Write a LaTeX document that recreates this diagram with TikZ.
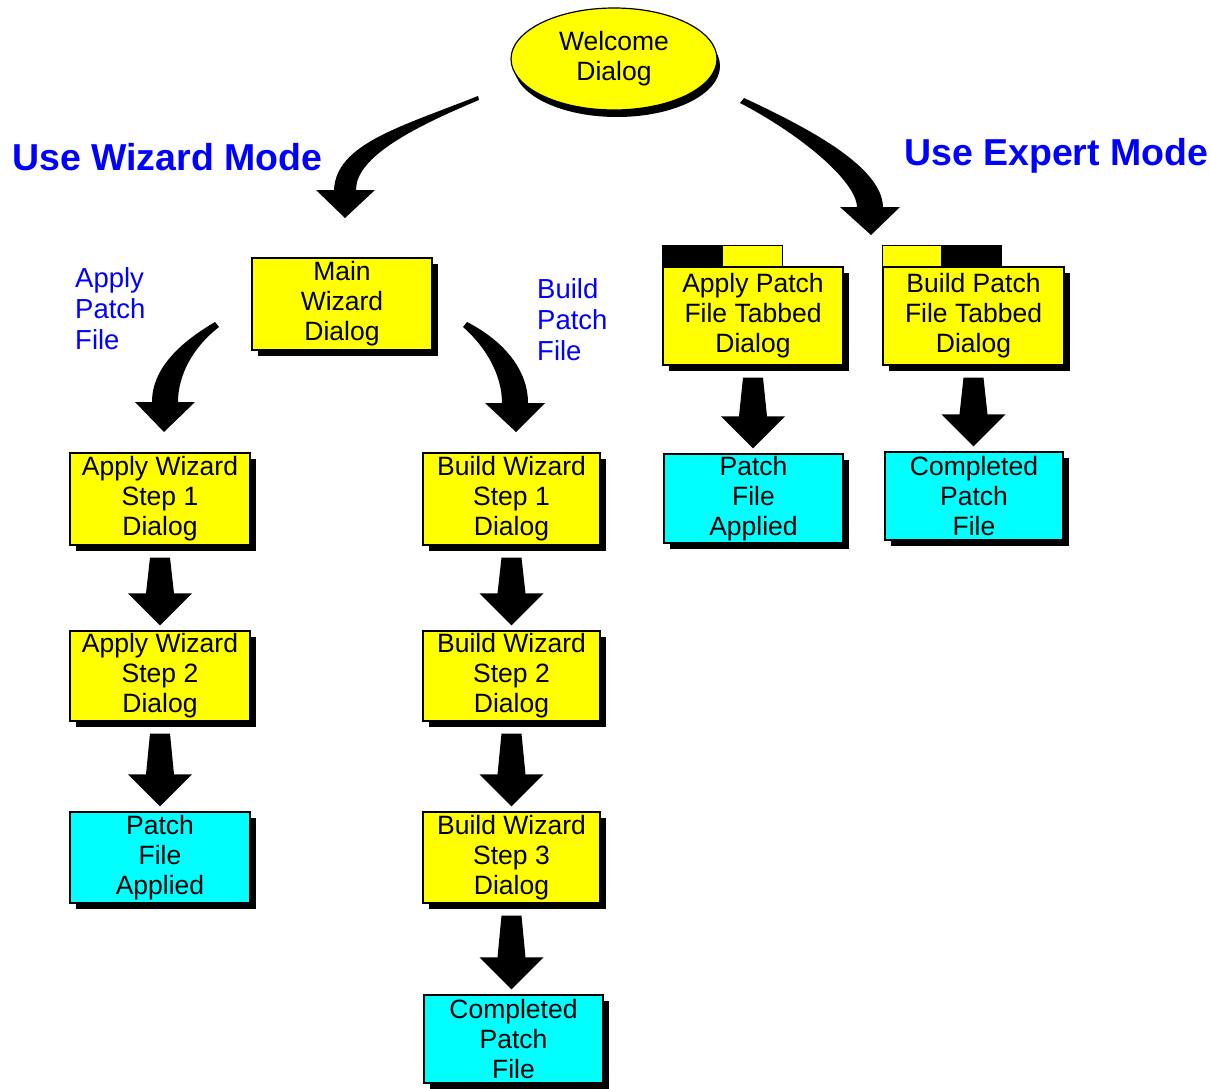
\documentclass[tikz,border=0pt]{standalone}
\usepackage{fontspec}
\setmainfont{Liberation Sans}
\usetikzlibrary{shadows,calc,shapes.geometric}
\definecolor{yellowbox}{RGB}{255,255,0}
\definecolor{cyanbox}{RGB}{0,255,255}
\definecolor{labelblue}{RGB}{0,0,255}
\tikzset{
  boxbase/.style={draw=black, line width=1.2pt, inner sep=0pt, align=center,
    font=\fontsize{26.5}{30}\selectfont},
  boxshadow/.style={drop shadow={shadow xshift=6pt, shadow yshift=-6pt, fill=black, opacity=1}},
  ybox/.style={boxbase, boxshadow, fill=yellowbox, minimum width=180pt, minimum height=92pt},
  cbox/.style={boxbase, boxshadow, fill=cyanbox, minimum width=180pt, minimum height=90pt},
  bluelabel/.style={text=labelblue, inner sep=0pt, align=left, font=\fontsize{27.5}{31}\selectfont},
  modelabel/.style={text=labelblue, inner sep=0pt, font=\fontsize{37.5}{40}\selectfont\bfseries},
  arrowfill/.style={fill=black},
}
\newcommand\blockarr[2]{%
  \fill[arrowfill] let \p1=($(#1.south)+(0,12)$), \p2=($(#2.north)+(0,-5)$) in
    (\x1-10pt,\y1) -- (\x1+10pt,\y1) -- (\x1+14pt,\y2+32pt) -- (\x1+32pt,\y2+32pt)
    -- (\x1,\y2) -- (\x1-32pt,\y2+32pt) -- (\x1-14pt,\y2+32pt) -- cycle;}
\begin{document}
\begin{tikzpicture}[x=1pt,y=-1pt]
\useasboundingbox[fill=white] (0,0) rectangle (1210,1089);

% top ellipse
\node[ellipse, boxbase, fill=yellowbox, minimum width=206pt, minimum height=102pt,
  drop shadow={shadow xshift=3pt, shadow yshift=-7pt, fill=black, opacity=1}]
  (welcome) at (614,59) {Welcome\\Dialog};

% mode labels
\node[modelabel, anchor=base west] (wizmode) at (12,170) {Use Wizard Mode};
\node[modelabel, anchor=base west] (expmode) at (904,165) {Use Expert Mode};

% wizard boxes
\node[ybox] (main) at (342,304) {Main\\Wizard\\Dialog};
\node[ybox] (as1) at (160,499) {Apply Wizard\\Step 1\\Dialog};
\node[ybox, minimum height=90pt] (as2) at (160,676) {Apply Wizard\\Step 2\\Dialog};
\node[cbox, minimum height=91pt] (apl) at (160,857.5) {Patch\\File\\Applied};
\node[ybox, minimum width=177pt] (bs1) at (511.5,499) {Build Wizard\\Step 1\\Dialog};
\node[ybox, minimum width=177pt, minimum height=90pt] (bs2) at (511.5,676) {Build Wizard\\Step 2\\Dialog};
\node[ybox, minimum width=177pt, minimum height=91pt] (bs3) at (511.5,857.5) {Build Wizard\\Step 3\\Dialog};
\node[cbox, minimum width=179pt, minimum height=88pt] (bcp) at (513.5,1039) {Completed\\Patch\\File};

% expert boxes
\node[ybox, minimum height=98pt] (apt) at (753,316) {Apply Patch\\File Tabbed\\Dialog};
\node[ybox, minimum width=181pt, minimum height=98pt] (bpt) at (973.5,316) {Build Patch\\File Tabbed\\Dialog};
\node[cbox, minimum width=179pt, minimum height=89pt] (rpa) at (753.5,498.5) {Patch\\File\\Applied};
\node[cbox, minimum width=178pt, minimum height=88pt] (rcp) at (974,496) {Completed\\Patch\\File};

% folder tabs
\fill[black] (apt.north west) rectangle ($(apt.north west)+(60,-21)$);
\draw[line width=1.2pt, fill=yellowbox] ($(apt.north west)+(60,0)$) rectangle ($(apt.north west)+(120,-21)$);
\draw[line width=1.2pt, fill=yellowbox] (bpt.north west) rectangle ($(bpt.north west)+(59,-21)$);
\fill[black] ($(bpt.north west)+(59,0)$) rectangle ($(bpt.north west)+(120,-21)$);

% branch labels
\node[bluelabel, anchor=north west] (applylbl) at (75,267) {Apply\\Patch\\File};
\node[bluelabel, anchor=north west] (buildlbl) at (537,278) {Build\\Patch\\File};

% curved arrows
\fill[arrowfill] (478,96) .. controls (400,127) and (336,144) .. (334,190)
  -- (316,190) -- (345,218) -- (375,190) -- (356,190)
  .. controls (356,160) and (402,132) .. (479,100) -- cycle;
\fill[arrowfill] (744,98) .. controls (806,127) and (882,166) .. (883,207)
  -- (900,207) -- (871,235) -- (840,207) -- (857,207)
  .. controls (856,180) and (798,133) .. (740,103) -- cycle;
\fill[arrowfill] (215,322) .. controls (181,342) and (152,368) .. (152,402)
  -- (135,402) -- (164,432) -- (195,402) -- (178,402)
  .. controls (178,376) and (192,348) .. (219,327) -- cycle;
\fill[arrowfill] (467,322) .. controls (504,341) and (528,370) .. (528,403)
  -- (545,403) -- (516,432) -- (485,403) -- (502,403)
  .. controls (502,376) and (487,348) .. (463,327) -- cycle;

% straight block arrows
\blockarr{as1}{as2}
\blockarr{as2}{apl}
\blockarr{bs1}{bs2}
\blockarr{bs2}{bs3}
\blockarr{bs3}{bcp}
\blockarr{apt}{rpa}
\blockarr{bpt}{rcp}
\end{tikzpicture}
\end{document}
